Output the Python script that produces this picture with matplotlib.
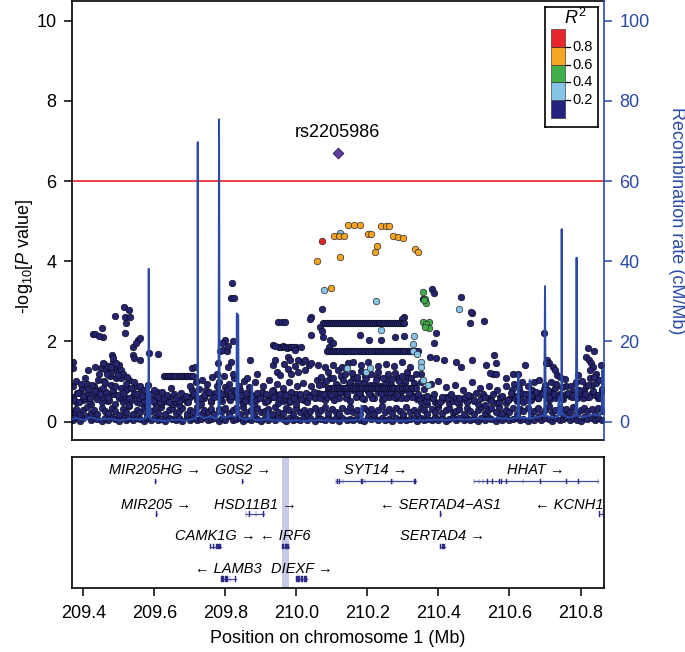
import numpy as np
import matplotlib
matplotlib.use('Agg')
import matplotlib.pyplot as plt
from matplotlib.patches import Rectangle

plt.rcParams['font.family'] = ['Liberation Sans', 'DejaVu Sans']
plt.rcParams['mathtext.fontset'] = 'custom'
plt.rcParams['mathtext.rm'] = 'Liberation Sans'
plt.rcParams['mathtext.it'] = 'Liberation Sans:italic'

# ---------------- data ----------------
xlim = (209.367, 210.867)
x_ticks = [209.4, 209.6, 209.8, 210.0, 210.2, 210.4, 210.6, 210.8]
p_ticks = [0, 2, 4, 6, 8, 10]
rec_ticks = [0, 20, 40, 60, 80, 100]
threshold = 6.0

lead_name = 'rs2205986'
lead_pos, lead_logp = 210.116, 6.71

# dense background band: positions with three stacked values each
band_pos = [209.370, 209.379, 209.391, 209.400, 209.409, 209.421, 209.430, 209.439, 209.451, 209.460,
            209.469, 209.481, 209.490, 209.499, 209.511, 209.520, 209.529, 209.541, 209.550, 209.559,
            209.571, 209.580, 209.589, 209.601, 209.610, 209.619, 209.631, 209.640, 209.649, 209.661,
            209.670, 209.679, 209.691, 209.700, 209.709, 209.721, 209.730, 209.739, 209.751, 209.760,
            209.769, 209.781, 209.790, 209.799, 209.811, 209.820, 209.829, 209.841, 209.850, 209.859,
            209.871, 209.880, 209.889, 209.901, 209.910, 209.919, 209.931, 209.940, 209.949, 209.961,
            209.970, 209.979, 209.991, 210.000, 210.009, 210.021, 210.030, 210.039, 210.051, 210.060,
            210.069, 210.081, 210.090, 210.099, 210.111, 210.120, 210.129, 210.141, 210.150, 210.159,
            210.171, 210.180, 210.189, 210.201, 210.210, 210.219, 210.231, 210.240, 210.249, 210.261,
            210.270, 210.279, 210.291, 210.300, 210.309, 210.321, 210.330, 210.339, 210.351, 210.360,
            210.369, 210.381, 210.390, 210.399, 210.411, 210.420, 210.429, 210.441, 210.450, 210.459,
            210.471, 210.480, 210.489, 210.501, 210.510, 210.519, 210.531, 210.540, 210.549, 210.561,
            210.570, 210.579, 210.591, 210.600, 210.609, 210.621, 210.630, 210.639, 210.651, 210.660,
            210.669, 210.681, 210.690, 210.699, 210.711, 210.720, 210.729, 210.741, 210.750, 210.759,
            210.771, 210.780, 210.789, 210.801, 210.810, 210.819, 210.831, 210.840, 210.849, 210.861]
band_lo = [0.05, 0.12, 0.02, 0.08, 0.15, 0.03, 0.10, 0.06, 0.01, 0.09,
           0.04, 0.11, 0.07, 0.02, 0.13, 0.05, 0.08, 0.03, 0.10, 0.06,
           0.02, 0.09, 0.05, 0.12, 0.04, 0.07, 0.01, 0.10, 0.06, 0.03,
           0.08, 0.02, 0.11, 0.05, 0.09, 0.03, 0.07, 0.12, 0.04, 0.06,
           0.10, 0.02, 0.08, 0.05, 0.13, 0.03, 0.06, 0.09, 0.01, 0.07,
           0.04, 0.11, 0.06, 0.02, 0.09, 0.05, 0.12, 0.03, 0.08, 0.06,
           0.01, 0.10, 0.04, 0.07, 0.03, 0.11, 0.05, 0.08, 0.02, 0.09,
           0.06, 0.03, 0.12, 0.05, 0.08, 0.01, 0.10, 0.04, 0.07, 0.03,
           0.09, 0.05, 0.02, 0.11, 0.06, 0.08, 0.03, 0.10, 0.04, 0.07,
           0.02, 0.09, 0.05, 0.12, 0.03, 0.06, 0.08, 0.01, 0.10, 0.04,
           0.07, 0.03, 0.11, 0.05, 0.09, 0.02, 0.06, 0.12, 0.04, 0.08,
           0.03, 0.10, 0.05, 0.07, 0.01, 0.09, 0.04, 0.11, 0.06, 0.02,
           0.08, 0.05, 0.12, 0.03, 0.07, 0.10, 0.04, 0.06, 0.02, 0.09,
           0.05, 0.11, 0.03, 0.08, 0.06, 0.01, 0.10, 0.04, 0.07, 0.12,
           0.03, 0.09, 0.05, 0.02, 0.11, 0.06, 0.08, 0.04, 0.10, 0.05]
band_md = [0.25, 0.32, 0.18, 0.28, 0.36, 0.22, 0.30, 0.19, 0.34, 0.26,
           0.21, 0.33, 0.27, 0.17, 0.31, 0.24, 0.38, 0.20, 0.29, 0.23,
           0.35, 0.19, 0.26, 0.31, 0.22, 0.37, 0.18, 0.28, 0.33, 0.21,
           0.27, 0.34, 0.20, 0.30, 0.24, 0.36, 0.19, 0.29, 0.25, 0.32,
           0.18, 0.31, 0.26, 0.35, 0.22, 0.28, 0.33, 0.20, 0.37, 0.24,
           0.30, 0.19, 0.34, 0.23, 0.27, 0.32, 0.18, 0.36, 0.25, 0.21,
           0.33, 0.28, 0.20, 0.35, 0.24, 0.30, 0.19, 0.26, 0.34, 0.22,
           0.29, 0.37, 0.21, 0.31, 0.25, 0.18, 0.33, 0.27, 0.36, 0.23,
           0.30, 0.20, 0.35, 0.26, 0.32, 0.19, 0.28, 0.38, 0.24, 0.31,
           0.22, 0.34, 0.27, 0.19, 0.36, 0.25, 0.30, 0.21, 0.33, 0.28,
           0.18, 0.32, 0.24, 0.37, 0.21, 0.29, 0.35, 0.23, 0.27, 0.31,
           0.20, 0.34, 0.26, 0.19, 0.30, 0.36, 0.22, 0.28, 0.33, 0.25,
           0.37, 0.21, 0.29, 0.24, 0.35, 0.18, 0.31, 0.27, 0.34, 0.22,
           0.26, 0.33, 0.20, 0.30, 0.38, 0.23, 0.28, 0.35, 0.19, 0.32,
           0.24, 0.36, 0.21, 0.29, 0.34, 0.27, 0.31, 0.20, 0.35, 0.26]
band_hi = [0.62, 0.48, 0.75, 0.55, 0.68, 0.45, 0.72, 0.58, 0.50, 0.66,
           0.52, 0.70, 0.44, 0.61, 0.48, 0.57, 0.42, 0.65, 0.50, 0.46,
           0.55, 0.40, 0.63, 0.47, 0.58, 0.43, 0.52, 0.60, 0.45, 0.50,
           0.42, 0.57, 0.48, 0.62, 0.66, 0.53, 0.45, 0.59, 0.71, 0.50,
           0.64, 0.75, 0.52, 0.68, 0.58, 0.80, 0.62, 0.55, 0.47, 0.60,
           0.50, 0.44, 0.58, 0.65, 0.48, 0.55, 0.61, 0.70, 0.46, 0.52,
           0.57, 0.49, 0.63, 0.45, 0.60, 0.54, 0.48, 0.66, 0.58, 0.72,
           0.68, 0.55, 0.78, 0.62, 0.70, 0.58, 0.74, 0.65, 0.52, 0.80,
           0.63, 0.72, 0.57, 0.77, 0.66, 0.60, 0.75, 0.55, 0.69, 0.62,
           0.71, 0.58, 0.66, 0.79, 0.60, 0.73, 0.64, 0.56, 0.48, 0.62,
           0.45, 0.58, 0.50, 0.43, 0.55, 0.62, 0.47, 0.52, 0.60, 0.44,
           0.56, 0.48, 0.63, 0.51, 0.45, 0.58, 0.42, 0.60, 0.53, 0.47,
           0.50, 0.62, 0.46, 0.57, 0.65, 0.52, 0.60, 0.48, 0.70, 0.55,
           0.63, 0.58, 0.72, 0.66, 0.55, 0.75, 0.60, 0.68, 0.57, 0.70,
           0.65, 0.74, 0.60, 0.69, 0.78, 0.62, 0.72, 0.66, 0.58, 0.76]

# scattered low-LD SNPs between 0.5 and 1.3
snp_mid = [(209.372, 0.88), (209.378, 1.02), (209.385, 0.71), (209.392, 0.95), (209.398, 0.64),
           (209.405, 1.10), (209.412, 0.82), (209.418, 0.58), (209.425, 0.92), (209.433, 0.76),
           (209.440, 1.05), (209.447, 0.68), (209.455, 0.85), (209.462, 0.97), (209.468, 0.62),
           (209.476, 1.15), (209.483, 0.78), (209.490, 0.90), (209.497, 0.66), (209.505, 1.08),
           (209.512, 0.72), (209.520, 0.95), (209.527, 0.60), (209.535, 0.83), (209.542, 1.00),
           (209.550, 0.70), (209.558, 0.88), (209.565, 0.63), (209.572, 0.79), (209.582, 0.92),
           (209.590, 0.68), (209.598, 0.80), (209.610, 0.62), (209.622, 0.75), (209.636, 0.66),
           (209.648, 0.85), (209.661, 0.60), (209.675, 0.72), (209.688, 0.64), (209.700, 0.90),
           (209.712, 0.70), (209.718, 0.98), (209.726, 0.82), (209.733, 1.05), (209.740, 0.66),
           (209.747, 0.93), (209.754, 0.74), (209.761, 1.12), (209.768, 0.62), (209.775, 0.88),
           (209.782, 1.00), (209.789, 0.70), (209.796, 1.15), (209.803, 0.80), (209.810, 0.95),
           (209.817, 0.64), (209.824, 1.08), (209.831, 0.77), (209.838, 0.90), (209.845, 0.66),
           (209.852, 1.02), (209.858, 0.72), (209.866, 0.86), (209.874, 0.64), (209.882, 0.98),
           (209.890, 0.72), (209.898, 0.60), (209.906, 0.90), (209.914, 0.68), (209.922, 1.05),
           (209.930, 0.76), (209.938, 0.62), (209.946, 0.95), (209.954, 0.70), (209.962, 0.84),
           (209.970, 0.66), (209.978, 1.00), (209.986, 0.74), (209.994, 0.60), (210.002, 0.88),
           (210.010, 0.68), (210.018, 0.96), (210.026, 0.72), (210.034, 0.62), (210.042, 0.90),
           (210.050, 0.75), (210.058, 1.04), (210.064, 0.92), (210.070, 1.12), (210.077, 0.70),
           (210.083, 1.02), (210.090, 1.25), (210.096, 0.66), (210.103, 1.10), (210.110, 0.95),
           (210.116, 1.28), (210.123, 0.74), (210.130, 1.05), (210.136, 1.20), (210.143, 0.68),
           (210.150, 1.00), (210.156, 1.22), (210.163, 0.88), (210.170, 1.12), (210.177, 0.72),
           (210.183, 1.26), (210.190, 0.98), (210.197, 1.08), (210.203, 0.70), (210.210, 1.18),
           (210.217, 0.92), (210.223, 1.04), (210.230, 1.24), (210.237, 0.68), (210.243, 1.10),
           (210.250, 0.95), (210.257, 1.20), (210.263, 0.75), (210.270, 1.06), (210.277, 1.22),
           (210.283, 0.66), (210.290, 1.02), (210.297, 1.14), (210.303, 0.90), (210.310, 1.25),
           (210.317, 0.72), (210.323, 1.08), (210.330, 0.96), (210.337, 1.18), (210.343, 0.70),
           (210.350, 1.00), (210.358, 0.82), (210.368, 0.64), (210.378, 0.95), (210.388, 0.70),
           (210.398, 1.02), (210.410, 0.62), (210.422, 0.86), (210.434, 0.68), (210.446, 0.92),
           (210.458, 0.60), (210.470, 0.80), (210.482, 0.66), (210.494, 0.98), (210.506, 0.72),
           (210.518, 0.84), (210.530, 0.62), (210.542, 0.90), (210.554, 0.70), (210.566, 0.78),
           (210.578, 0.64), (210.590, 0.88), (210.604, 0.72), (210.612, 0.95), (210.620, 0.64),
           (210.628, 0.85), (210.636, 1.00), (210.644, 0.70), (210.652, 0.90), (210.660, 0.66),
           (210.668, 0.98), (210.676, 0.75), (210.684, 1.04), (210.692, 0.68), (210.700, 0.92),
           (210.708, 0.80), (210.716, 1.00), (210.724, 0.70), (210.732, 0.94), (210.740, 0.64),
           (210.748, 0.86), (210.756, 1.06), (210.764, 0.72), (210.772, 0.90), (210.780, 0.66),
           (210.788, 0.98), (210.796, 0.78), (210.804, 1.02), (210.812, 0.70), (210.820, 0.92),
           (210.828, 1.08), (210.836, 0.76), (210.844, 0.96), (210.852, 1.04), (210.860, 0.82)]

# further low-lying SNPs filling the ragged top of the band
snp_low = [(209.374, 0.55), (209.381, 0.72), (209.388, 0.48), (209.395, 0.83), (209.402, 0.60),
           (209.410, 0.95), (209.416, 0.52), (209.423, 0.70), (209.430, 0.88), (209.437, 0.57),
           (209.444, 0.78), (209.451, 0.62), (209.458, 1.02), (209.465, 0.75), (209.472, 0.55),
           (209.479, 0.92), (209.486, 0.68), (209.493, 1.08), (209.500, 0.58), (209.507, 0.85),
           (209.514, 0.64), (209.521, 0.80), (209.528, 1.05), (209.535, 0.55), (209.542, 0.72),
           (209.549, 0.90), (209.556, 0.60), (209.563, 0.82), (209.570, 0.52), (209.577, 0.66),
           (209.595, 0.52), (209.606, 0.75), (209.617, 0.48), (209.628, 0.58), (209.642, 0.50),
           (209.655, 0.70), (209.668, 0.52), (209.682, 0.62), (209.695, 0.48), (209.706, 0.78),
           (209.730, 0.58), (209.744, 0.78), (209.758, 0.55), (209.771, 0.72), (209.786, 0.60),
           (209.800, 0.86), (209.814, 0.55), (209.828, 0.68), (209.842, 0.80), (209.856, 0.52),
           (209.870, 0.70), (209.886, 0.55), (209.902, 0.75), (209.918, 0.52), (209.934, 0.80),
           (209.950, 0.58), (209.966, 0.72), (209.982, 0.52), (209.998, 0.70), (210.014, 0.56),
           (210.066, 0.58), (210.074, 0.95), (210.086, 0.62), (210.094, 1.08), (210.106, 0.55),
           (210.118, 0.90), (210.126, 1.15), (210.139, 0.60), (210.147, 0.95), (210.160, 1.10),
           (210.167, 0.62), (210.174, 0.98), (210.186, 0.58), (210.194, 1.15), (210.206, 0.92),
           (210.214, 0.60), (210.226, 1.12), (210.234, 0.88), (210.246, 0.58), (210.254, 1.05),
           (210.266, 0.92), (210.274, 0.62), (210.286, 1.10), (210.294, 0.58), (210.306, 0.98),
           (210.314, 1.12), (210.326, 0.62), (210.334, 0.90), (210.346, 0.58), (210.352, 1.20),
           (210.364, 0.52), (210.384, 0.60), (210.404, 0.48), (210.428, 0.58), (210.452, 0.50),
           (210.476, 0.62), (210.500, 0.55), (210.524, 0.68), (210.548, 0.52), (210.572, 0.62),
           (210.596, 0.55), (210.608, 0.80), (210.616, 0.58), (210.632, 0.72), (210.648, 0.55),
           (210.664, 0.80), (210.680, 0.60), (210.696, 0.82), (210.712, 0.62), (210.728, 0.84),
           (210.744, 0.58), (210.760, 0.88), (210.776, 0.62), (210.792, 0.80), (210.808, 0.58),
           (210.816, 0.88), (210.824, 0.62), (210.832, 0.92), (210.848, 0.66), (210.856, 0.58)]

# higher low-LD SNPs
snp_high = [(209.371, 1.50), (209.370, 1.33), (209.414, 1.29), (209.428, 2.19), (209.452, 2.33),
            (209.433, 2.19), (209.455, 2.10), (209.445, 2.14), (209.513, 2.85), (209.527, 2.79),
            (209.489, 2.64), (209.517, 2.62), (209.531, 2.62), (209.520, 2.47), (209.517, 2.20),
            (209.541, 1.87), (209.555, 2.04), (209.560, 2.08), (209.548, 1.96), (209.539, 1.66),
            (209.560, 1.54), (209.543, 1.58), (209.450, 1.35), (209.458, 1.45), (209.463, 1.28),
            (209.470, 1.40), (209.476, 1.22), (209.482, 1.48), (209.488, 1.33), (209.494, 1.25),
            (209.500, 1.42), (209.505, 1.30), (209.511, 1.20), (209.466, 1.18), (209.478, 1.36),
            (209.491, 1.46), (209.498, 1.16), (209.480, 1.66), (209.484, 1.60), (209.522, 1.12),
            (209.433, 1.37), (209.445, 1.20), (209.456, 1.46), (209.586, 1.71), (209.611, 1.69),
            (209.705, 1.33), (209.714, 1.36), (209.819, 3.45), (209.815, 3.08), (209.824, 3.08),
            (209.799, 2.04), (209.822, 2.02), (209.785, 1.77), (209.794, 1.79), (209.803, 1.75),
            (209.807, 1.88), (209.790, 1.95), (209.817, 1.50), (209.808, 1.37), (209.822, 1.20),
            (209.780, 1.46), (209.775, 1.20), (209.869, 1.54), (209.860, 1.08), (209.888, 1.20),
            (209.934, 1.91), (209.950, 1.87), (209.956, 1.85), (209.962, 1.88), (209.968, 1.86),
            (209.974, 1.84), (209.980, 1.87), (209.986, 1.85), (209.993, 1.83), (209.999, 1.86),
            (209.949, 2.49), (209.958, 2.49), (209.967, 2.49), (209.939, 1.89), (209.934, 1.41),
            (209.944, 1.25), (209.953, 1.16), (209.939, 1.54), (209.965, 1.45), (209.975, 1.32),
            (209.985, 1.20), (209.995, 1.38), (210.005, 1.25), (210.015, 1.50), (210.025, 1.30),
            (210.035, 1.42), (210.073, 2.80), (210.040, 2.62), (210.038, 2.55), (210.066, 2.37),
            (210.073, 2.27), (210.042, 2.16), (210.075, 2.12), (210.094, 2.04), (210.103, 1.96),
            (210.092, 1.87), (210.178, 2.16), (210.204, 2.04), (210.239, 2.04), (210.277, 2.10),
            (210.302, 2.14), (210.302, 2.62), (210.298, 2.55), (209.991, 1.87), (210.014, 1.87),
            (209.996, 1.79), (209.977, 1.62), (209.981, 1.54), (210.005, 1.54), (210.024, 1.54),
            (210.042, 1.46), (210.061, 1.41), (210.080, 1.37), (210.103, 1.41), (210.127, 1.37),
            (210.145, 1.46), (210.160, 1.50), (210.181, 1.42), (210.201, 1.48), (210.229, 1.38),
            (210.252, 1.45), (210.274, 1.40), (210.296, 1.50), (210.319, 1.36), (210.394, 2.20),
            (210.387, 1.96), (210.375, 1.62), (210.394, 1.58), (210.415, 1.54), (210.383, 3.30),
            (210.387, 3.22), (210.356, 3.06), (210.464, 3.12), (210.495, 2.72), (210.490, 2.47),
            (210.527, 2.52), (210.492, 2.74), (210.448, 1.50), (210.464, 1.37), (210.495, 1.54),
            (210.535, 1.41), (210.553, 1.20), (210.546, 1.22), (210.561, 1.20), (210.555, 1.66),
            (210.561, 1.46), (210.589, 1.08), (210.610, 1.19), (210.624, 1.19), (210.645, 1.41),
            (210.696, 2.20), (210.705, 1.54), (210.711, 1.46), (210.702, 1.46), (210.722, 1.37),
            (210.727, 1.29), (210.733, 1.16), (210.741, 1.12), (210.793, 1.16), (210.821, 1.83),
            (210.837, 1.75), (210.816, 1.62), (210.823, 1.54), (210.830, 1.46), (210.834, 1.37),
            (210.827, 1.29), (210.844, 1.20), (210.839, 1.12), (210.858, 1.41)]

# rows of SNPs sharing one P value (haplotype blocks)
streak_logp = [2.45, 1.75, 0.83, 1.15]
streak_pos = [
    [210.075, 210.081, 210.086, 210.092, 210.098, 210.103, 210.109, 210.114, 210.120, 210.126,
     210.131, 210.137, 210.142, 210.148, 210.154, 210.159, 210.165, 210.170, 210.176, 210.182,
     210.187, 210.193, 210.198, 210.204, 210.210, 210.215, 210.221, 210.226, 210.232, 210.238,
     210.243, 210.249, 210.254, 210.260, 210.266, 210.271, 210.277, 210.282, 210.288, 210.294,
     210.299, 210.304],
    [210.085, 210.091, 210.097, 210.103, 210.109, 210.115, 210.121, 210.127, 210.133, 210.139,
     210.145, 210.151, 210.157, 210.163, 210.169, 210.175, 210.181, 210.187, 210.193, 210.199,
     210.205, 210.211, 210.217, 210.223, 210.229, 210.235, 210.241, 210.247, 210.253, 210.259,
     210.265, 210.271, 210.277, 210.283, 210.289, 210.295, 210.301, 210.307, 210.313, 210.319,
     210.325, 210.331, 210.337, 210.343],
    [210.088, 210.094, 210.101, 210.107, 210.114, 210.120, 210.127, 210.133, 210.140, 210.146,
     210.153, 210.159, 210.166, 210.172, 210.179, 210.185, 210.192, 210.198, 210.205, 210.211,
     210.218, 210.224, 210.231, 210.237, 210.244, 210.250, 210.257, 210.263, 210.270, 210.276,
     210.283, 210.289, 210.296, 210.302, 210.309, 210.315, 210.322, 210.328, 210.336],
    [209.626, 209.632, 209.638, 209.644, 209.650, 209.656, 209.662, 209.668, 209.674, 209.680,
     209.686, 209.692, 209.698, 209.704, 209.709],
]

# SNPs in LD with the lead SNP: (position, -log10 P, r2 class)
ld_snps = [(210.122, 4.71, 1), (210.077, 3.28, 1), (210.224, 3.02, 1), (210.457, 2.80, 1),
           (210.237, 2.29, 1), (210.330, 2.14, 1), (210.327, 1.94, 1), (210.328, 1.75, 1),
           (210.340, 1.69, 1), (210.352, 1.50, 1), (210.352, 1.37, 1), (210.143, 1.33, 1),
           (210.195, 1.25, 1), (210.208, 1.33, 1), (210.355, 1.04, 1), (210.370, 0.92, 1),
           (210.355, 3.24, 2), (210.363, 3.05, 2), (210.366, 2.95, 2), (210.358, 3.03, 2),
           (210.355, 2.49, 2), (210.373, 2.49, 2), (210.366, 2.44, 2), (210.372, 2.34, 2),
           (210.363, 2.37, 2),
           (210.145, 4.90, 3), (210.161, 4.90, 3), (210.178, 4.90, 3), (210.239, 4.88, 3),
           (210.251, 4.88, 3), (210.261, 4.88, 3), (210.105, 4.63, 3), (210.120, 4.63, 3),
           (210.134, 4.63, 3), (210.202, 4.68, 3), (210.209, 4.68, 3), (210.272, 4.64, 3),
           (210.286, 4.61, 3), (210.300, 4.59, 3), (210.227, 4.38, 3), (210.220, 4.24, 3),
           (210.333, 4.31, 3), (210.342, 4.24, 3), (210.122, 4.11, 3), (210.058, 4.01, 3),
           (210.096, 3.33, 3),
           (210.073, 4.51, 4)]

r2_breaks = [0.0, 0.2, 0.4, 0.6, 0.8, 1.0]
r2_colors = ['#25256f', '#86c5e8', '#3fae4a', '#f5a321', '#e8232a']
legend_colors = ['#242480', '#86c5e8', '#41b04b', '#f5a623', '#e8262b']

# recombination rate (cM/Mb)
recomb = [(209.367, 0.6), (209.380, 0.9), (209.400, 0.4), (209.420, 1.1), (209.445, 0.5),
          (209.470, 0.8), (209.500, 0.3), (209.530, 0.7), (209.560, 0.5), (209.575, 0.9),
          (209.579, 1.5), (209.580, 9.0), (209.581, 1.8), (209.583, 1.2), (209.584, 38.1),
          (209.585, 1.6), (209.587, 1.0), (209.588, 7.0), (209.589, 0.8), (209.600, 0.4),
          (209.630, 0.2), (209.660, 0.5), (209.690, 0.3), (209.715, 0.8), (209.7205, 2.0),
          (209.7215, 11.0), (209.722, 69.7), (209.7225, 12.0), (209.7235, 1.5), (209.740, 0.9),
          (209.760, 1.3), (209.775, 0.7), (209.7805, 2.0), (209.782, 75.4), (209.7835, 2.0),
          (209.795, 1.0), (209.815, 1.5), (209.829, 1.2), (209.831, 2.0), (209.832, 27.0),
          (209.836, 26.5), (209.837, 2.0), (209.839, 1.0), (209.855, 0.6), (209.872, 0.8),
          (209.875, 9.0), (209.877, 1.0), (209.880, 0.5), (209.900, 0.4), (209.918, 0.6),
          (209.920, 2.5), (209.923, 0.5), (209.940, 0.3), (209.970, 0.2), (210.000, 0.3),
          (210.030, 0.2), (210.060, 0.4), (210.090, 0.3), (210.120, 0.2), (210.150, 0.3),
          (210.180, 0.5), (210.183, 4.0), (210.186, 0.5), (210.210, 0.3), (210.240, 0.2),
          (210.270, 0.3), (210.300, 0.2), (210.330, 0.4), (210.360, 0.3), (210.390, 0.5),
          (210.420, 0.4), (210.450, 0.6), (210.480, 0.5), (210.510, 0.8), (210.540, 0.6),
          (210.570, 0.9), (210.600, 0.7), (210.623, 1.0), (210.625, 12.0), (210.627, 1.0),
          (210.655, 0.8), (210.657, 10.4), (210.659, 0.8), (210.680, 1.2), (210.698, 1.5),
          (210.700, 33.8), (210.702, 1.5), (210.720, 1.0), (210.736, 1.2), (210.739, 6.0),
          (210.742, 1.5), (210.746, 2.0), (210.747, 48.0), (210.748, 2.0), (210.765, 1.0),
          (210.787, 1.5), (210.789, 40.9), (210.791, 1.5), (210.810, 1.2), (210.835, 1.8),
          (210.855, 1.5), (210.860, 3.0), (210.862, 13.0), (210.864, 3.0), (210.867, 2.0)]

# genes
gene_name = ['MIR205HG', 'G0S2', 'SYT14', 'HHAT', 'MIR205', 'HSD11B1', 'SERTAD4\u2212AS1', 'KCNH1',
             'CAMK1G', 'IRF6', 'SERTAD4', 'LAMB3', 'DIEXF']
gene_row = [1, 1, 1, 1, 2, 2, 2, 2, 3, 3, 3, 4, 4]
gene_strand = ['+', '+', '+', '+', '+', '+', '-', '-', '+', '-', '+', '-', '+']
gene_start = [209.603, 209.848, 210.111, 210.500, 209.605, 209.858, 210.405, 210.852,
              209.757, 209.958, 210.404, 209.787, 210.000]
gene_end = [209.605, 209.849, 210.338, 210.849, 209.606, 209.908, 210.407, 211.310,
            209.787, 209.979, 210.417, 209.829, 210.030]
gene_label_at = {'MIR205HG': 209.601, 'KCNH1': 210.768}
gene_exons = [
    [(209.603, 209.605)],
    [(209.848, 209.849)],
    [(210.110, 210.112), (210.115, 210.117), (210.121, 210.123), (210.130, 210.132),
     (210.182, 210.184), (210.186, 210.188), (210.192, 210.194), (210.267, 210.269),
     (210.271, 210.273), (210.331, 210.338)],
    [(210.499, 210.501), (210.513, 210.515), (210.524, 210.526), (210.538, 210.540),
     (210.552, 210.554), (210.571, 210.573), (210.576, 210.578), (210.590, 210.592),
     (210.637, 210.639), (210.687, 210.689), (210.759, 210.761), (210.794, 210.796),
     (210.848, 210.850)],
    [(209.605, 209.606)],
    [(209.857, 209.859), (209.866, 209.868), (209.885, 209.887), (209.905, 209.908)],
    [(210.405, 210.407)],
    [(210.852, 210.856), (210.862, 210.864)],
    [(209.757, 209.759), (209.765, 209.767), (209.773, 209.787)],
    [(209.958, 209.966), (209.969, 209.979)],
    [(210.404, 210.408), (210.410, 210.417)],
    [(209.787, 209.797), (209.800, 209.808), (209.812, 209.814), (209.827, 209.829)],
    [(210.000, 210.010), (210.013, 210.018), (210.021, 210.030)],
]
highlight = (209.958, 209.979)

# ---------------- figure ----------------
W, H = 685, 652
BLUE = '#2a4aa6'
GENE = '#2b2b86'
fig = plt.figure(figsize=(W / 100, H / 100), dpi=100)


def box(x0, y0, x1, y1):
    return [x0 / W, 1 - y1 / H, (x1 - x0) / W, (y1 - y0) / H]


ax = fig.add_axes(box(71.7, 1, 604.3, 440))
axg = fig.add_axes(box(71.7, 456.9, 604.3, 588.3))

ax.set_xlim(xlim)
ax.set_ylim(-0.457, 10.49)

# points
pt = dict(s=22, edgecolors='#0b0b22', linewidths=0.5, zorder=2)
bx = band_pos * 3
by = band_lo + band_md + band_hi
ax.scatter(bx, by, c=r2_colors[0], **pt)
for grp in (snp_low, snp_mid, snp_high):
    ax.scatter([p for p, _ in grp], [v for _, v in grp], c=r2_colors[0], **pt)
for v, row in zip(streak_logp, streak_pos):
    ax.scatter(row, [v] * len(row), c=r2_colors[0], **pt)

rec_x = [p for p, _ in recomb]
rec_y = np.array([r for _, r in recomb]) / 10.0
ax.plot(rec_x, rec_y, color=BLUE, lw=1.4, zorder=3)

for k in (1, 2, 3, 4):
    sel = [(p, v) for p, v, c in ld_snps if c == k]
    ax.scatter([p for p, _ in sel], [v for _, v in sel], c=r2_colors[k],
               s=22, edgecolors='#2a2a2a', linewidths=0.5, zorder=4 + k)

ax.axhline(threshold, color='#e8343a', lw=1.3, zorder=2.5)
ax.scatter([lead_pos], [lead_logp], marker='D', s=30, c='#5e3f9c',
           edgecolors='#2a1a55', linewidths=0.6, zorder=10)
ax.text(lead_pos, 7.22, lead_name, ha='center', va='center', fontsize=13)

ax.set_xticks([])
ax.set_yticks(p_ticks)
ax.tick_params(axis='y', length=6, width=1.1, labelsize=13, pad=5)
for s in ('left', 'top', 'bottom'):
    ax.spines[s].set_linewidth(1.2)
ax.spines['right'].set_visible(False)

axr = ax.twinx()
axr.set_ylim(-4.57, 104.9)
axr.set_yticks(rec_ticks)
axr.tick_params(axis='y', length=6, width=1.1, labelsize=13, pad=5,
                colors=BLUE)
for s in ('left', 'top', 'bottom'):
    axr.spines[s].set_visible(False)
axr.spines['right'].set_color(BLUE)
axr.spines['right'].set_linewidth(1.2)

fig.text(25 / W, 1 - 256 / H, '-log$_{10}$[$P$ value]', rotation=90,
         ha='center', va='center', fontsize=13)
fig.text(676 / W, 1 - 221 / H, 'Recombination rate (cM/Mb)', rotation=270,
         ha='center', va='center', fontsize=13, color=BLUE)

# legend
axl = fig.add_axes(box(545, 6.7, 598, 126.7))
axl.set_xlim(545, 598)
axl.set_ylim(-0.0978, 1.2506)
axl.set_xticks([])
axl.set_yticks([])
for s in axl.spines.values():
    s.set_linewidth(1.2)
for lo, hi, col in zip(r2_breaks[:-1], r2_breaks[1:], legend_colors):
    axl.add_patch(Rectangle((550.7, lo), 14.3, hi - lo, facecolor=col,
                            edgecolor='#222222', linewidth=0.4))
for b in r2_breaks[1:-1]:
    axl.plot([565, 570], [b, b], color='black', lw=0.9)
    axl.text(572.5, b, f'{b:.1f}', ha='left', va='center', fontsize=10.5)
axl.text(575, 1.125, '$R^2$', ha='center', va='center', fontsize=13)

# gene panel
row_gene_y = {1: 107.0, 2: 74.3, 3: 41.6, 4: 9.3}
row_text_y = {1: 118.3, 2: 83.3, 3: 52.0, 4: 19.6}
axg.set_xlim(xlim)
axg.set_ylim(0, 131.4)
axg.axvspan(highlight[0], highlight[1], color='#c6cae8', lw=0, zorder=0)
for name, row, strand, g0, g1, exons in zip(gene_name, gene_row, gene_strand,
                                            gene_start, gene_end, gene_exons):
    gy = row_gene_y[row]
    axg.plot([g0, g1], [gy, gy], color='#4a4a9c', lw=0.9, zorder=2)
    for e0, e1 in exons:
        axg.add_patch(Rectangle((e0, gy - 2.6), max(e1 - e0, 0.0012), 5.2,
                                facecolor=GENE, edgecolor=GENE, lw=0.3, zorder=3))
    label = f'{name} \u2192' if strand == '+' else f'\u2190 {name}'
    lx = gene_label_at.get(name, (g0 + g1) / 2)
    axg.text(lx, row_text_y[row], label, ha='center', va='center',
             fontsize=10.5, style='italic', zorder=4)

axg.set_yticks([])
axg.set_xticks(x_ticks)
axg.set_xticklabels([f'{t:.1f}' for t in x_ticks])
axg.tick_params(axis='x', length=6, width=1.1, labelsize=13, pad=6)
for s in axg.spines.values():
    s.set_linewidth(1.2)
axg.set_xlabel('Position on chromosome 1 (Mb)', fontsize=13, labelpad=6)

fig.savefig('out.png', dpi=100)
